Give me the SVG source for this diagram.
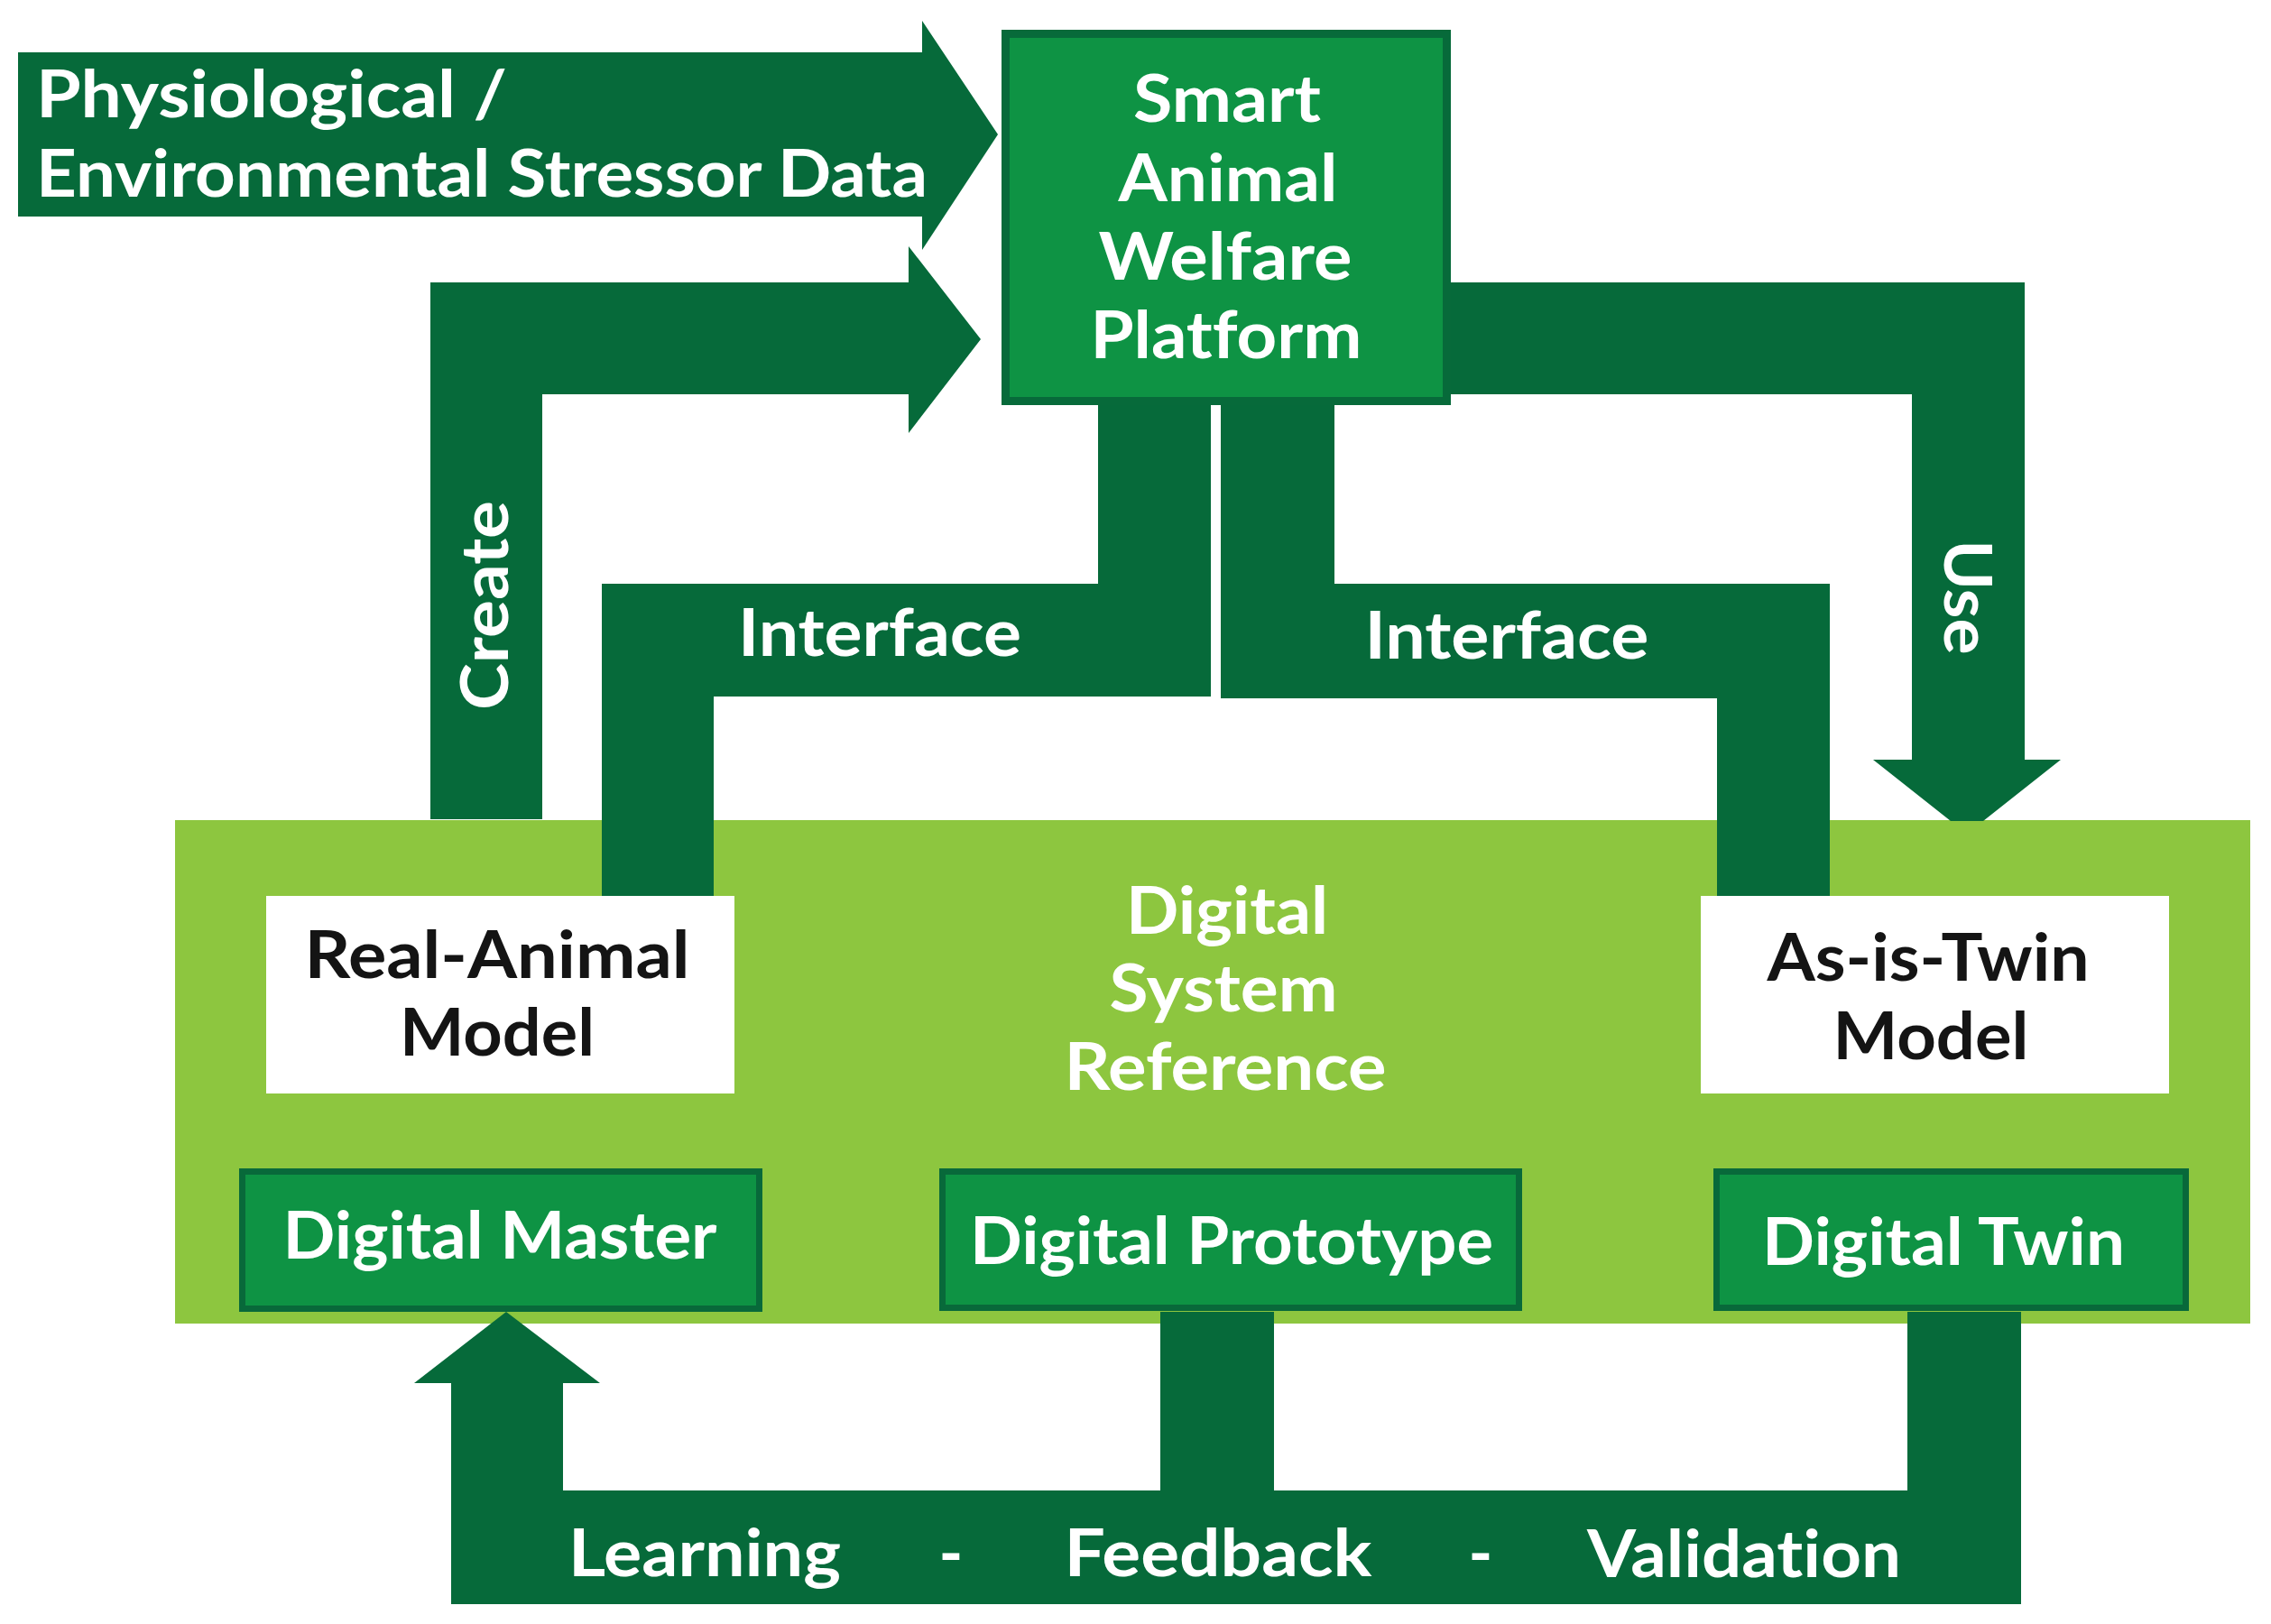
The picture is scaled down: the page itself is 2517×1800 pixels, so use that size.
<svg xmlns="http://www.w3.org/2000/svg" width="2517" height="1800" viewBox="0 0 2517 1800">
  <style>
    .band { fill: #066a3a; }
    .platform { fill: #0e9344; stroke: #076a3a; stroke-width: 9; }
    .dbox { fill: #0e9344; stroke: #08693a; stroke-width: 7; }
    .wbox { fill: #ffffff; }
    .container { fill: #8dc63f; }
    .t { font-family: Lato, "Open Sans", "Noto Sans", sans-serif; font-weight: 700; font-size: 72px; fill: #ffffff; font-variant-ligatures: none; }
    .m { text-anchor: middle; }
    .k { fill: #141414; }
  </style>
  <rect width="2517" height="1800" fill="#ffffff"/>

  <g id="digital-system-reference">
    <rect class="container" x="194" y="909" width="2300" height="558"/>
    <text class="t m" x="1360" y="1035" textLength="224" lengthAdjust="spacingAndGlyphs">Digital</text>
    <text class="t m" x="1356" y="1121" textLength="253" lengthAdjust="spacingAndGlyphs">System</text>
    <text class="t m" x="1358" y="1208" textLength="357" lengthAdjust="spacingAndGlyphs">Reference</text>
  </g>

  <g id="connectors">
    <g id="stressor-data">
      <polygon class="band" points="20,58 1022,58 1022,23 1106,149 1022,277 1022,240 20,240"/>
      <text class="t" x="40" y="130" textLength="522" lengthAdjust="spacingAndGlyphs">Physiological /</text>
      <text class="t" x="40" y="218" textLength="988" lengthAdjust="spacingAndGlyphs">Environmental Stressor Data</text>
    </g>
    <g id="create">
      <path class="band" d="M477,908 L477,313 L1007,313 L1007,273 L1087,376 L1007,480 L1007,437 L601,437 L601,908 Z"/>
      <text class="t m" transform="translate(563,671) rotate(-90)" x="0" y="0" textLength="232" lengthAdjust="spacingAndGlyphs">Create</text>
    </g>
    <g id="interface-left">
      <path class="band" d="M667,994 L667,647 L1217,647 L1217,449 L1342,449 L1342,772 L791,772 L791,994 Z"/>
      <text class="t m" x="975" y="727" textLength="314" lengthAdjust="spacingAndGlyphs">Interface</text>
    </g>
    <g id="interface-right">
      <path class="band" d="M1353,449 L1479,449 L1479,647 L2028,647 L2028,993 L1903,993 L1903,774 L1353,774 Z"/>
      <text class="t m" x="1670" y="730" textLength="315" lengthAdjust="spacingAndGlyphs">Interface</text>
    </g>
    <g id="use">
      <path class="band" d="M1604,313 L2244,313 L2244,842 L2284,842 L2198,910 L2162,910 L2076,842 L2119,842 L2119,437 L1604,437 Z"/>
      <text class="t m" transform="translate(2155,662) rotate(90)" x="0" y="0" textLength="127" lengthAdjust="spacingAndGlyphs">Use</text>
    </g>
    <g id="feedback-loop">
      <path class="band" d="M500,1778 L500,1533 L459,1533 L561,1454 L665,1533 L624,1533 L624,1652 L1286,1652 L1286,1454 L1412,1454 L1412,1652 L2114,1652 L2114,1454 L2240,1454 L2240,1778 Z"/>
      <text class="t" x="630" y="1747" textLength="302" lengthAdjust="spacingAndGlyphs">Learning</text>
      <text class="t m" x="1054" y="1747">-</text>
      <text class="t m" x="1350" y="1747" textLength="341" lengthAdjust="spacingAndGlyphs">Feedback</text>
      <text class="t m" x="1641" y="1747">-</text>
      <text class="t m" x="1933" y="1748" textLength="348" lengthAdjust="spacingAndGlyphs">Validation</text>
    </g>
  </g>

  <g id="smart-animal-welfare-platform">
    <rect class="platform" x="1114.5" y="37.5" width="489" height="407"/>
    <text class="t m" x="1360" y="135" textLength="208" lengthAdjust="spacingAndGlyphs">Smart</text>
    <text class="t m" x="1361" y="223" textLength="243" lengthAdjust="spacingAndGlyphs">Animal</text>
    <text class="t m" x="1358" y="310" textLength="281" lengthAdjust="spacingAndGlyphs">Welfare</text>
    <text class="t m" x="1359" y="397" textLength="301" lengthAdjust="spacingAndGlyphs">Platform</text>
  </g>

  <g id="real-animal-model">
    <rect class="wbox" x="295" y="993" width="519" height="219"/>
    <text class="t m k" x="551" y="1084" textLength="427" lengthAdjust="spacingAndGlyphs">Real-Animal</text>
    <text class="t m k" x="551" y="1170" textLength="216" lengthAdjust="spacingAndGlyphs">Model</text>
  </g>

  <g id="as-is-twin-model">
    <rect class="wbox" x="1885" y="993" width="519" height="219"/>
    <text class="t m k" x="2137" y="1087" textLength="357" lengthAdjust="spacingAndGlyphs">As-is-Twin</text>
    <text class="t m k" x="2140" y="1174" textLength="217" lengthAdjust="spacingAndGlyphs">Model</text>
  </g>

  <g id="digital-master">
    <rect class="dbox" x="268.5" y="1298.5" width="573" height="152"/>
    <text class="t m" x="554" y="1395" textLength="481" lengthAdjust="spacingAndGlyphs">Digital Master</text>
  </g>

  <g id="digital-prototype">
    <rect class="dbox" x="1044.5" y="1298.5" width="639" height="151"/>
    <text class="t m" x="1365" y="1401" textLength="580" lengthAdjust="spacingAndGlyphs">Digital Prototype</text>
  </g>

  <g id="digital-twin">
    <rect class="dbox" x="1902.5" y="1298.5" width="520" height="151"/>
    <text class="t m" x="2154" y="1402" textLength="402" lengthAdjust="spacingAndGlyphs">Digital Twin</text>
  </g>
</svg>
